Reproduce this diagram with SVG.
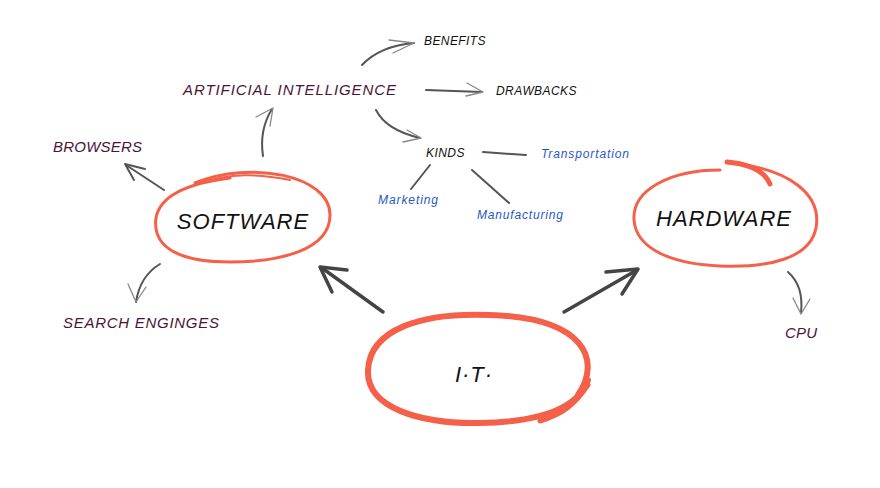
<svg xmlns="http://www.w3.org/2000/svg" width="880" height="488" viewBox="0 0 880 488">
<defs>
<style>
.lbl{font-family:"Liberation Sans","DejaVu Sans",sans-serif;font-style:italic}
.main{fill:#111;font-size:22px;letter-spacing:1px}
.pur{fill:#4a1538;font-size:15px;letter-spacing:1px}
.blk{fill:#111;font-size:12px;letter-spacing:0.5px}
.blu{fill:#1f58c8;font-size:12px}
.ring{fill:none;stroke:#f5604a;stroke-linecap:round}
.con{fill:none;stroke:#555;stroke-linecap:round;stroke-linejoin:round}
.thin{stroke-width:1.3;stroke:#888}
.thick{stroke-width:3.5;stroke:#444}
.mid{stroke-width:2;stroke:#555}
</style>
</defs>
<rect width="880" height="488" fill="#fff"/>
<g id="connectors">
  <path class="con thick" d="M383 312 L322 268"/>
  <path class="con thick" d="M320 267 L332 292 M320 267 L347 270"/>
  <path class="con thick" d="M564 312 L637 270"/>
  <path class="con thick" d="M638 269 L622 294 M638 269 L606 272"/>
  <path class="con mid" d="M164 190 L126 165"/>
  <path class="con mid" d="M125 164 L134 180 M125 164 L145 169"/>
  <path class="con mid" d="M160 264 Q140 276 136 302"/>
  <path class="con thin" d="M136 302 L128 284 M136 302 L146 287"/>
  <path class="con mid" d="M263 156 Q259 130 272 109"/>
  <path class="con thin" d="M273 108 L256 117 M273 108 L270 126"/>
  <path class="con mid" d="M362 65 Q380 46 414 43"/>
  <path class="con thin" d="M414 43 L389 40 M414 43 L393 53"/>
  <path class="con mid" d="M426 90 L482 92"/>
  <path class="con thin" d="M483 92 L467 83 M483 92 L466 96"/>
  <path class="con mid" d="M376 110 Q386 130 420 138"/>
  <path class="con thin" d="M421 138 L407 130 M421 138 L403 142"/>
  <path class="con mid" d="M483 152 L526 155"/>
  <path class="con mid" d="M430 165 L411 189"/>
  <path class="con mid" d="M472 170 L509 203"/>
  <path class="con mid" d="M788 272 Q804 286 801 313"/>
  <path class="con thin" d="M801 314 L793 298 M801 314 L810 299"/>
</g>
<g id="node-it">
  <path class="ring" stroke-width="6" d="M578 395 C602 360 585 318 490 315 C420 312 370 330 368 370 C366 408 420 424 480 423 C540 422 578 408 588 380"/>
  <path class="ring" stroke-width="5" d="M588 385 C575 405 562 414 540 421"/>
  <text class="lbl main" x="474" y="382" text-anchor="middle" font-size="26">I·T·</text>
</g>
<g id="node-software">
  <path class="ring" stroke-width="3" d="M195 183 C250 160 330 175 330 215 C330 250 280 262 230 262 C180 262 152 248 156 218 C160 195 190 183 230 178"/>
  <path class="ring" stroke-width="2" d="M198 184 C230 172 260 174 290 180"/>
  <text class="lbl main" x="243" y="229" text-anchor="middle">SOFTWARE</text>
</g>
<g id="node-hardware">
  <path class="ring" stroke-width="3" d="M728 163 C790 168 822 195 816 228 C810 258 770 268 720 266 C670 264 636 248 634 220 C632 190 670 170 720 170"/>
  <path class="ring" stroke-width="5" d="M727 162 C750 164 765 172 770 184"/>
  <text class="lbl main" x="724" y="226" text-anchor="middle">HARDWARE</text>
</g>
<g id="node-ai"><text class="lbl pur" x="183" y="95" textLength="214">ARTIFICIAL INTELLIGENCE</text></g>
<g id="node-benefits"><text class="lbl blk" x="424" y="45" textLength="62">BENEFITS</text></g>
<g id="node-drawbacks"><text class="lbl blk" x="496" y="95" textLength="81">DRAWBACKS</text></g>
<g id="node-kinds"><text class="lbl blk" x="426" y="157" textLength="39">KINDS</text></g>
<g id="node-transportation"><text class="lbl blu" x="541" y="158" textLength="88">Transportation</text></g>
<g id="node-marketing"><text class="lbl blu" x="378" y="204" textLength="60">Marketing</text></g>
<g id="node-manufacturing"><text class="lbl blu" x="477" y="219" textLength="86">Manufacturing</text></g>
<g id="node-browsers"><text class="lbl pur" x="53" y="152" textLength="90">BROWSERS</text></g>
<g id="node-search"><text class="lbl pur" x="63" y="328" textLength="157">SEARCH ENGINGES</text></g>
<g id="node-cpu"><text class="lbl pur" x="785" y="338" textLength="33">CPU</text></g>
</svg>
